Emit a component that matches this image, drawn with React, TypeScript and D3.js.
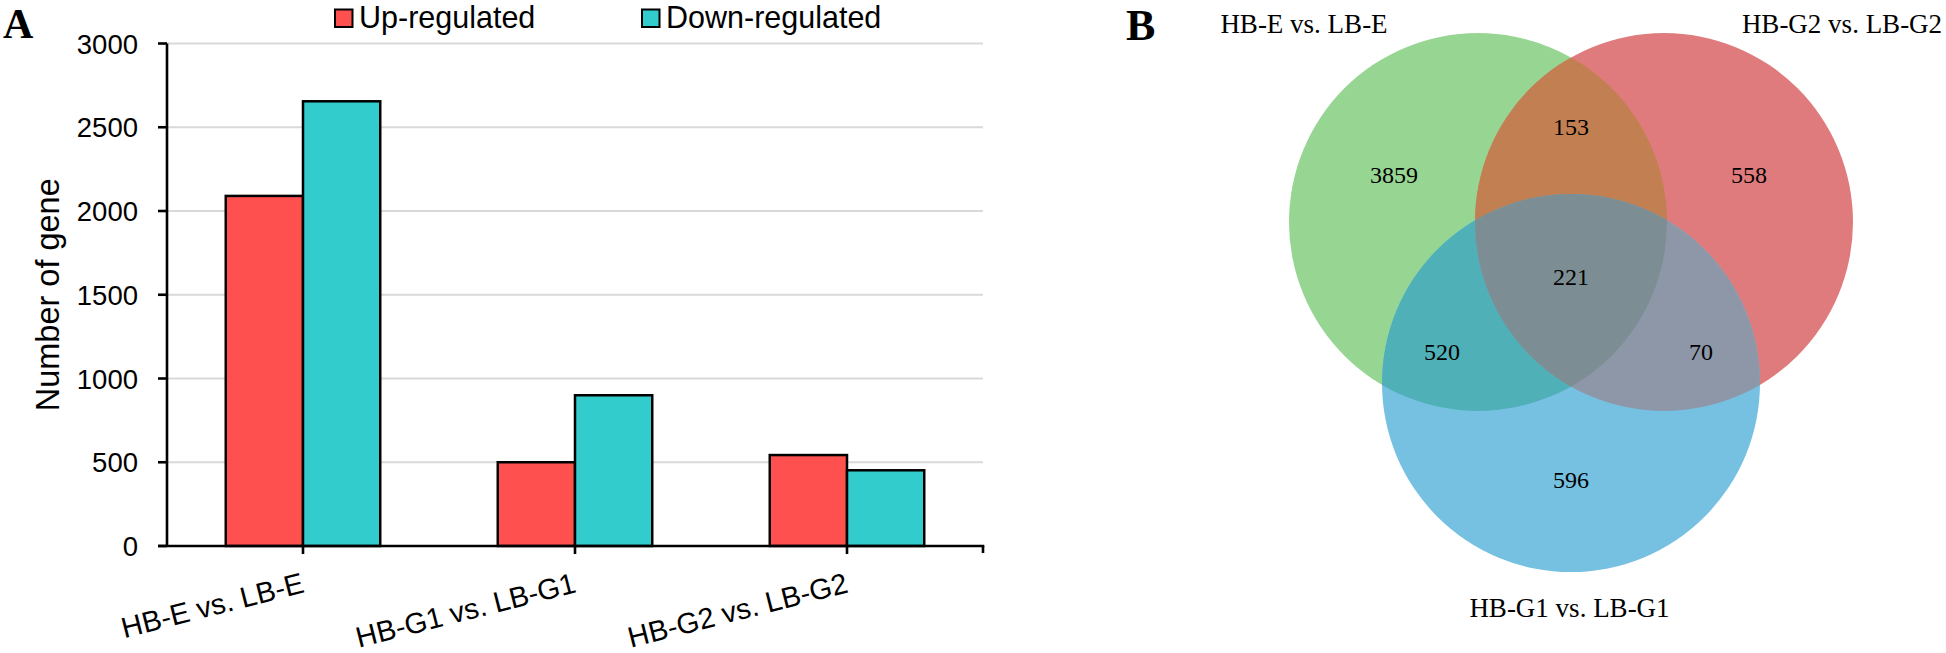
import React from "react";
import * as d3 from "d3";

// ---------- Data: panel A ----------
const categories = ["HB-E vs. LB-E", "HB-G1 vs. LB-G1", "HB-G2 vs. LB-G2"];
const seriesNames = ["Up-regulated", "Down-regulated"];
const upValues = [2090, 500, 543];
const downValues = [2655, 900, 452];
const yTicks = [0, 500, 1000, 1500, 2000, 2500, 3000];
const seriesColors = ["#FF5050", "#33CCCC"];

// ---------- Data: panel B ----------
const vennSetNames = ["HB-E vs. LB-E", "HB-G2 vs. LB-G2", "HB-G1 vs. LB-G1"];
const vennRegionKeys = ["E", "G2", "G1", "E&G2", "E&G1", "G2&G1", "E&G2&G1"];
const vennRegionCounts = [3859, 558, 596, 153, 520, 70, 221];

const W = 1946;
const H = 653;
const SANS = "'Liberation Sans', Arial, Helvetica, sans-serif";
const SERIF = "'Liberation Serif', 'Times New Roman', Times, serif";

function PanelA() {
  const left = 167, right = 983, top = 43.5, bottom = 546;
  const y = d3.scaleLinear().domain([0, 3000]).range([bottom, top]);
  const x0 = d3.scaleBand<string>().domain(categories).range([left, right]).paddingInner(0.432).paddingOuter(0.216);
  const x1 = d3.scaleBand<string>().domain(seriesNames).range([0, x0.bandwidth()]);
  const values = [upValues, downValues];

  return (
    <g>
      <text x={3} y={38} fontFamily={SERIF} fontWeight="bold" fontSize={42}>A</text>
      {/* gridlines */}
      {yTicks.filter((t) => t > 0).map((t) => (
        <line key={"g" + t} x1={left} x2={right} y1={y(t)} y2={y(t)} stroke="#d9d9d9" strokeWidth={2.2} />
      ))}
      {/* bars */}
      {categories.map((c, i) => (
        <g key={c}>
          {seriesNames.map((s, j) => (
            <rect
              key={s}
              x={(x0(c) as number) + (x1(s) as number)}
              y={y(values[j][i])}
              width={x1.bandwidth()}
              height={y(0) - y(values[j][i])}
              fill={seriesColors[j]}
              stroke="#000"
              strokeWidth={2.5}
            />
          ))}
        </g>
      ))}
      {/* y axis */}
      <line x1={left} x2={left} y1={top} y2={bottom} stroke="#000" strokeWidth={2.6} />
      {yTicks.map((t) => (
        <g key={"yt" + t}>
          <line x1={left - 9} x2={left} y1={y(t)} y2={y(t)} stroke="#000" strokeWidth={2.6} />
          <text x={138} y={y(t) + 10} textAnchor="end" fontFamily={SANS} fontSize={27.5} fill="#000">
            {t}
          </text>
        </g>
      ))}
      {/* x axis */}
      <line x1={left - 9} x2={right + 1.3} y1={bottom} y2={bottom} stroke="#000" strokeWidth={2.6} />
      {categories.map((c) => {
        const cx = (x0(c) as number) + x0.bandwidth() / 2;
        return (
          <g key={"xt" + c}>
            <line x1={cx} x2={cx} y1={bottom} y2={bottom + 8} stroke="#000" strokeWidth={2.6} />
            <text
              transform={`translate(${cx + 2.5},${592}) rotate(-14.3)`}
              textAnchor="end"
              fontFamily={SANS}
              fontSize={29}
              fill="#000"
            >
              {c}
            </text>
          </g>
        );
      })}
      <line x1={right} x2={right} y1={bottom} y2={bottom + 7} stroke="#000" strokeWidth={2.6} />
      {/* y title */}
      <text transform={`translate(59,${(top + bottom) / 2}) rotate(-90)`} textAnchor="middle" fontFamily={SANS} fontSize={32.5}>
        Number of gene
      </text>
      {/* legend */}
      {seriesNames.map((s, j) => {
        const lx = [335, 642][j];
        return (
          <g key={"lg" + s}>
            <rect x={lx} y={9.5} width={17.5} height={17.5} fill={seriesColors[j]} stroke="#000" strokeWidth={2} />
            <text x={lx + 24} y={27.8} fontFamily={SANS} fontSize={30.5} fill="#000">
              {s}
            </text>
          </g>
        );
      })}
    </g>
  );
}

function PanelB() {
  // layout geometry
  const cx = 1571, cyTop = 222, d = 186, r = 189;
  const centers = [
    { x: cx - d / 2, y: cyTop }, // E (green)
    { x: cx + d / 2, y: cyTop }, // G2 (red)
    { x: cx, y: cyTop + (d * Math.sqrt(3)) / 2 }, // G1 (blue)
  ];
  const baseColors = ["#97D593", "#E07B7D", "#76C1E1"];
  const colGR = "#C27F51", colGB = "#50B0B8", colRB = "#8E97A8", colAll = "#7C8E93";

  const regionPos: Record<string, [number, number]> = {
    E: [1394, 183],
    G2: [1749, 183],
    G1: [1571, 488],
    "E&G2": [1571, 135],
    "E&G1": [1442, 360],
    "G2&G1": [1701, 360],
    "E&G2&G1": [1571, 285],
  };
  const setLabelPos: [number, number][] = [
    [1304, 33],
    [1842, 33],
    [1569.5, 617],
  ];

  return (
    <g>
      <defs>
        {centers.map((c, i) => (
          <clipPath key={"cp" + i} id={"vclip" + i}>
            <circle cx={c.x} cy={c.y} r={r} />
          </clipPath>
        ))}
      </defs>
      <text x={1126} y={40} fontFamily={SERIF} fontWeight="bold" fontSize={44}>B</text>
      {centers.map((c, i) => (
        <circle key={"c" + i} cx={c.x} cy={c.y} r={r} fill={baseColors[i]} />
      ))}
      <circle cx={centers[1].x} cy={centers[1].y} r={r} fill={colGR} clipPath="url(#vclip0)" />
      <circle cx={centers[2].x} cy={centers[2].y} r={r} fill={colGB} clipPath="url(#vclip0)" />
      <circle cx={centers[2].x} cy={centers[2].y} r={r} fill={colRB} clipPath="url(#vclip1)" />
      <g clipPath="url(#vclip1)">
        <circle cx={centers[2].x} cy={centers[2].y} r={r} fill={colAll} clipPath="url(#vclip0)" />
      </g>
      {vennRegionKeys.map((k, i) => (
        <text key={k} x={regionPos[k][0]} y={regionPos[k][1]} textAnchor="middle" fontFamily={SERIF} fontSize={24} fill="#000">
          {vennRegionCounts[i]}
        </text>
      ))}
      {vennSetNames.map((n, i) => (
        <text key={n} x={setLabelPos[i][0]} y={setLabelPos[i][1]} textAnchor="middle" fontFamily={SERIF} fontSize={27} fill="#000">
          {n}
        </text>
      ))}
    </g>
  );
}

export default function App() {
  return (
    <svg
      width={W}
      height={H}
      viewBox={`0 0 ${W} ${H}`}
      style={{ position: "absolute", left: 0, top: 0, background: "#fff" }}
    >
      <rect x={0} y={0} width={W} height={H} fill="#fff" />
      <PanelA />
      <PanelB />
    </svg>
  );
}
